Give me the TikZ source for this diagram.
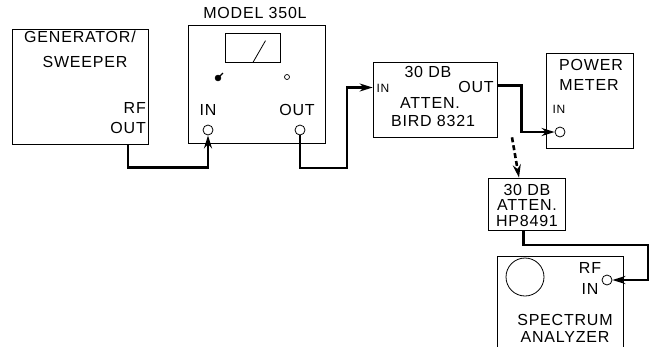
\documentclass[tikz,border=0pt]{standalone}
\usepackage{fontspec}
\setmainfont{Liberation Sans}[LetterSpace=5]
\usetikzlibrary{positioning,calc,arrows.meta}

\tikzset{
	unit/.style={draw=black,line width=0.7pt,inner sep=0pt},
	jack/.style={draw=black,circle,line width=0.8pt,minimum size=10pt,inner sep=0pt},
	wire/.style={line width=2.6pt},
	txt/.style={inner sep=0pt,font=\fontsize{16}{16}\selectfont},
	small/.style={inner sep=0pt,font=\fontsize{12}{12}\selectfont},
	tip/.style={-{Stealth[length=13pt,width=8pt]}},
}

\begin{document}
\begin{tikzpicture}[x=1pt,y=-1pt]
		\useasboundingbox (0,0) rectangle (657,346);
		
		% generator
		\node[unit,minimum width=136pt,minimum height=115pt] (gen) at (80,86.5) {};
		\node[txt] (genname) at (80,37) {GENERATOR/};
		\node[txt] (sweep) at (85,62) {SWEEPER};
		\node[txt,anchor=east] (genrf) at (146,108) {RF};
		\node[txt,anchor=east] (genout) at (146,128) {OUT};
		
		% model 350L
		\node[unit,minimum width=137pt,minimum height=118pt] (model) at (256.5,84) {};
		\node[txt] (modelname) at (255,13) {MODEL 350L};
		\node[unit,minimum width=55pt,minimum height=29pt] (meter) at (252.5,47.5) {};
		\draw[line width=0.8pt] ([xshift=0.5pt]meter.south) -- ([xshift=13pt,yshift=-8pt]meter.north);
		\node[draw=black,fill=black,circle,inner sep=0pt,minimum size=6pt] (knob) at (218,78) {};
		\draw[line width=1.2pt] (knob.center) -- ++(5,-5);
		\node[draw=black,circle,line width=0.7pt,inner sep=0pt,minimum size=5pt] (lamp) at (287,77) {};
		\node[txt] (modin) at (208,110) {IN};
		\node[txt] (modout) at (297,110) {OUT};
		\node[jack] (in1) at (208,130) {};
		\node[jack] (out1) at (300,130) {};
		
		% bird attenuator
		\node[unit,minimum width=124pt,minimum height=75pt] (bird) at (435,99.5) {};
		\node[small] (birdin) at (383,88) {IN};
		\node[txt] (birddb) at (428,72) {30 DB};
		\node[txt] (birdout) at (476,87) {OUT};
		\node[txt] (birdat) at (430,103) {ATTEN.};
		\node[txt] (birdno) at (433,121) {BIRD 8321};
		
		% power meter
		\node[unit,minimum width=87pt,minimum height=95pt] (power) at (589.5,100.5) {};
		\node[txt] (pow1) at (591,65) {POWER};
		\node[txt] (pow2) at (589,85) {METER};
		\node[small] (powin) at (559,109) {IN};
		\node[jack] (pin) at (560,132) {};
		
		% hp attenuator
		\node[unit,minimum width=77pt,minimum height=52pt] (hp) at (526.5,204) {};
		\node[txt] (hpdb) at (527,190) {30 DB};
		\node[txt] (hpat) at (527,205) {ATTEN.};
		\node[txt] (hpno) at (527,221) {HP8491};
		
		% spectrum analyzer
		\node[minimum width=125pt,minimum height=90pt,inner sep=0pt] (spec) at (560.5,302) {};
		\draw[line width=0.7pt] (spec.south west) |- (spec.north east) -- (spec.south east);
		\node[draw=black,circle,line width=0.8pt,inner sep=0pt,minimum size=38pt] (screen) at (525,277) {};
		\node[txt] (specrf) at (590,268) {RF};
		\node[txt] (specin) at (590,289) {IN};
		\node[jack] (sin) at (607,280) {};
		\node[txt] (spec1) at (565,320) {SPECTRUM};
		\node[txt] (spec2) at (565,337) {ANALYZER};
		
		% cables
		\draw[wire,tip] ([xshift=48pt]gen.south) -- ++(0,23) -| (in1.south);
		\draw[wire,tip] (out1.south) |- (347,168) |- ([yshift=12pt]bird.west);
		\draw[wire,tip] ([yshift=14pt]bird.east) -- ++(24,0) |- (pin.west);
		\draw[wire,dash pattern=on 5pt off 3pt,tip] ([xshift=-14.5pt]bird.south -| hp.north) -- ([xshift=-7.5pt]hp.north);
		\draw[wire,tip] ([xshift=-3pt]hp.south) |- (648,245) |- (sin.east);
	\end{tikzpicture}
\end{document}
